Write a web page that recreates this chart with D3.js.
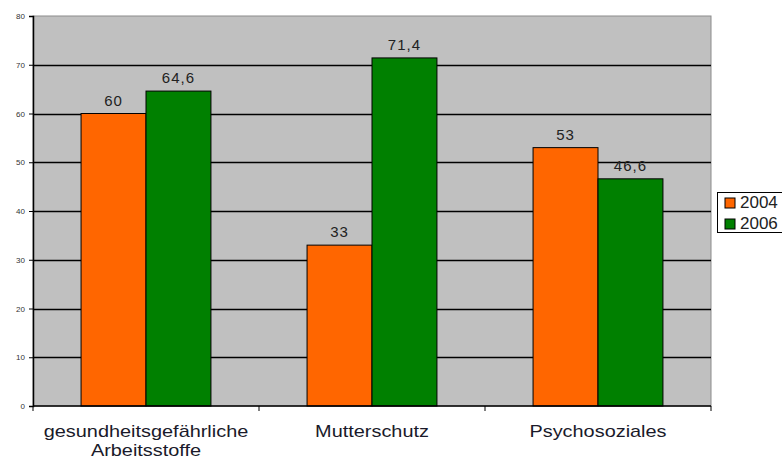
<!DOCTYPE html>
<html>
<head>
<meta charset="utf-8">
<script src="https://cdn.jsdelivr.net/npm/d3@7"></script>
<style>
  body { margin: 0; background: #fff; }
  text { font-family: "Liberation Sans", Arial, sans-serif; }
</style>
</head>
<body>
<div id="chart"></div>
<script>
// data
var categories = ["gesundheitsgefährliche\nArbeitsstoffe", "Mutterschutz", "Psychosoziales"];
var years = ["2004", "2006"];
var values2004 = [60, 33, 53];
var values2006 = [64.6, 71.4, 46.6];
var yTicks = [0, 10, 20, 30, 40, 50, 60, 70, 80];

var width = 782, height = 461;
// plot area (note: "top" is reserved on window, so use other names)
var plotLeft = 33, plotRight = 711, plotTop = 16, plotBottom = 406;
// 0:orange 1:vert
var colors = ["#ff6600", "#008000"];

var svg = d3.select("#chart").append("svg")
  .attr("width", width)
  .attr("height", height);

var y = d3.scaleLinear().domain([0, 80]).range([plotBottom, plotTop]);
var x0 = d3.scaleBand().domain(categories).range([plotLeft, plotRight]).padding(0);
var x1 = d3.scaleBand().domain(years)
  .range([0, x0.bandwidth()])
  .paddingInner(0)
  .paddingOuter(0.74);

// plot background
svg.append("rect")
  .attr("x", plotLeft).attr("y", plotTop)
  .attr("width", plotRight - plotLeft).attr("height", plotBottom - plotTop)
  .attr("fill", "#c0c0c0")
  .attr("stroke", "#8c8c8c")
  .attr("stroke-width", 1);

// gridlines
svg.append("g").selectAll("line")
  .data(yTicks.filter(function(d){ return d > 0 && d < 80; }))
  .enter().append("line")
  .attr("x1", plotLeft).attr("x2", plotRight)
  .attr("y1", function(d){ return Math.round(y(d)) + 0.5; })
  .attr("y2", function(d){ return Math.round(y(d)) + 0.5; })
  .attr("stroke", "#000")
  .attr("stroke-width", 1.3);

var rows = categories.map(function(c, i){
  return [
    {cat: c, year: "2004", value: values2004[i]},
    {cat: c, year: "2006", value: values2006[i]}
  ];
});

var groups = svg.append("g").selectAll("g")
  .data(rows)
  .enter().append("g")
  .attr("transform", function(d){ return "translate(" + x0(d[0].cat) + ",0)"; });

groups.selectAll("rect")
  .data(function(d){ return d; })
  .enter().append("rect")
  .attr("x", function(d){ return x1(d.year); })
  .attr("y", function(d){ return y(d.value); })
  .attr("width", x1.bandwidth())
  .attr("height", function(d){ return plotBottom - y(d.value); })
  .attr("fill", function(d){ return colors[years.indexOf(d.year)]; })
  .attr("stroke", "#000")
  .attr("stroke-width", 1);

groups.selectAll("text")
  .data(function(d){ return d; })
  .enter().append("text")
  .attr("x", function(d){ return x1(d.year) + x1.bandwidth() / 2; })
  .attr("y", function(d){ return y(d.value) - 8; })
  .attr("text-anchor", "middle")
  .attr("font-size", 15)
  .attr("letter-spacing", 1)
  .attr("fill", "#222")
  .text(function(d){ return String(d.value).replace(".", ","); });

// y axis
var yAxis = svg.append("g")
  .attr("transform", "translate(" + plotLeft + ",0)")
  .call(d3.axisLeft(y).tickValues(yTicks).tickSize(4).tickPadding(4));
yAxis.select(".domain").attr("stroke", "#000").attr("stroke-width", 1.5);
yAxis.selectAll(".tick line").attr("stroke", "#000");
yAxis.selectAll(".tick text")
  .attr("font-size", 8)
  .attr("fill", "#333")
  .style("font-family", "'Liberation Sans', Arial, sans-serif");

// x axis
var xAxis = svg.append("g")
  .attr("transform", "translate(0," + plotBottom + ")");
xAxis.append("line")
  .attr("x1", plotLeft).attr("x2", plotRight)
  .attr("stroke", "#000").attr("stroke-width", 1.5);
xAxis.selectAll(".xt")
  .data([plotLeft].concat(categories.map(function(c){ return x0(c) + x0.bandwidth(); })))
  .enter().append("line")
  .attr("class", "xt")
  .attr("x1", function(d){ return d; }).attr("x2", function(d){ return d; })
  .attr("y1", 0).attr("y2", 5)
  .attr("stroke", "#000");

// category labels: the reference font is a bit wide, so stretch it horizontally
var catLabels = xAxis.selectAll(".cl")
  .data(categories)
  .enter().append("text")
  .attr("class", "cl")
  .attr("text-anchor", "middle")
  .attr("font-size", 17)
  .attr("fill", "#1a1a2a")
  .attr("transform", function(d){ return "translate(" + (x0(d) + x0.bandwidth() / 2) + ",31) scale(1.17,1)"; });
catLabels.selectAll("tspan")
  .data(function(d){ return d.split("\n"); })
  .enter().append("tspan")
  .attr("x", 0)
  .attr("dy", function(d, i){ return i === 0 ? 0 : 19; })
  .text(function(d){ return d; });

// legend
var legend = svg.append("g").attr("transform", "translate(717,192)");
legend.append("rect")
  .attr("x", 0.5).attr("y", 0.5)
  .attr("width", 80).attr("height", 40)
  .attr("fill", "#fff")
  .attr("stroke", "#000");
var items = legend.selectAll(".li")
  .data(years)
  .enter().append("g")
  .attr("class", "li")
  .attr("transform", function(d, i){ return "translate(8," + (6 + i * 21) + ")"; });
items.append("rect")
  .attr("width", 10).attr("height", 10)
  .attr("fill", function(d, i){ return colors[i]; })
  .attr("stroke", "#000");
items.append("text")
  .attr("x", 15).attr("y", 10)
  .attr("font-size", 17)
  .attr("fill", "#222")
  .text(function(d){ return d; });
</script>
</body>
</html>
